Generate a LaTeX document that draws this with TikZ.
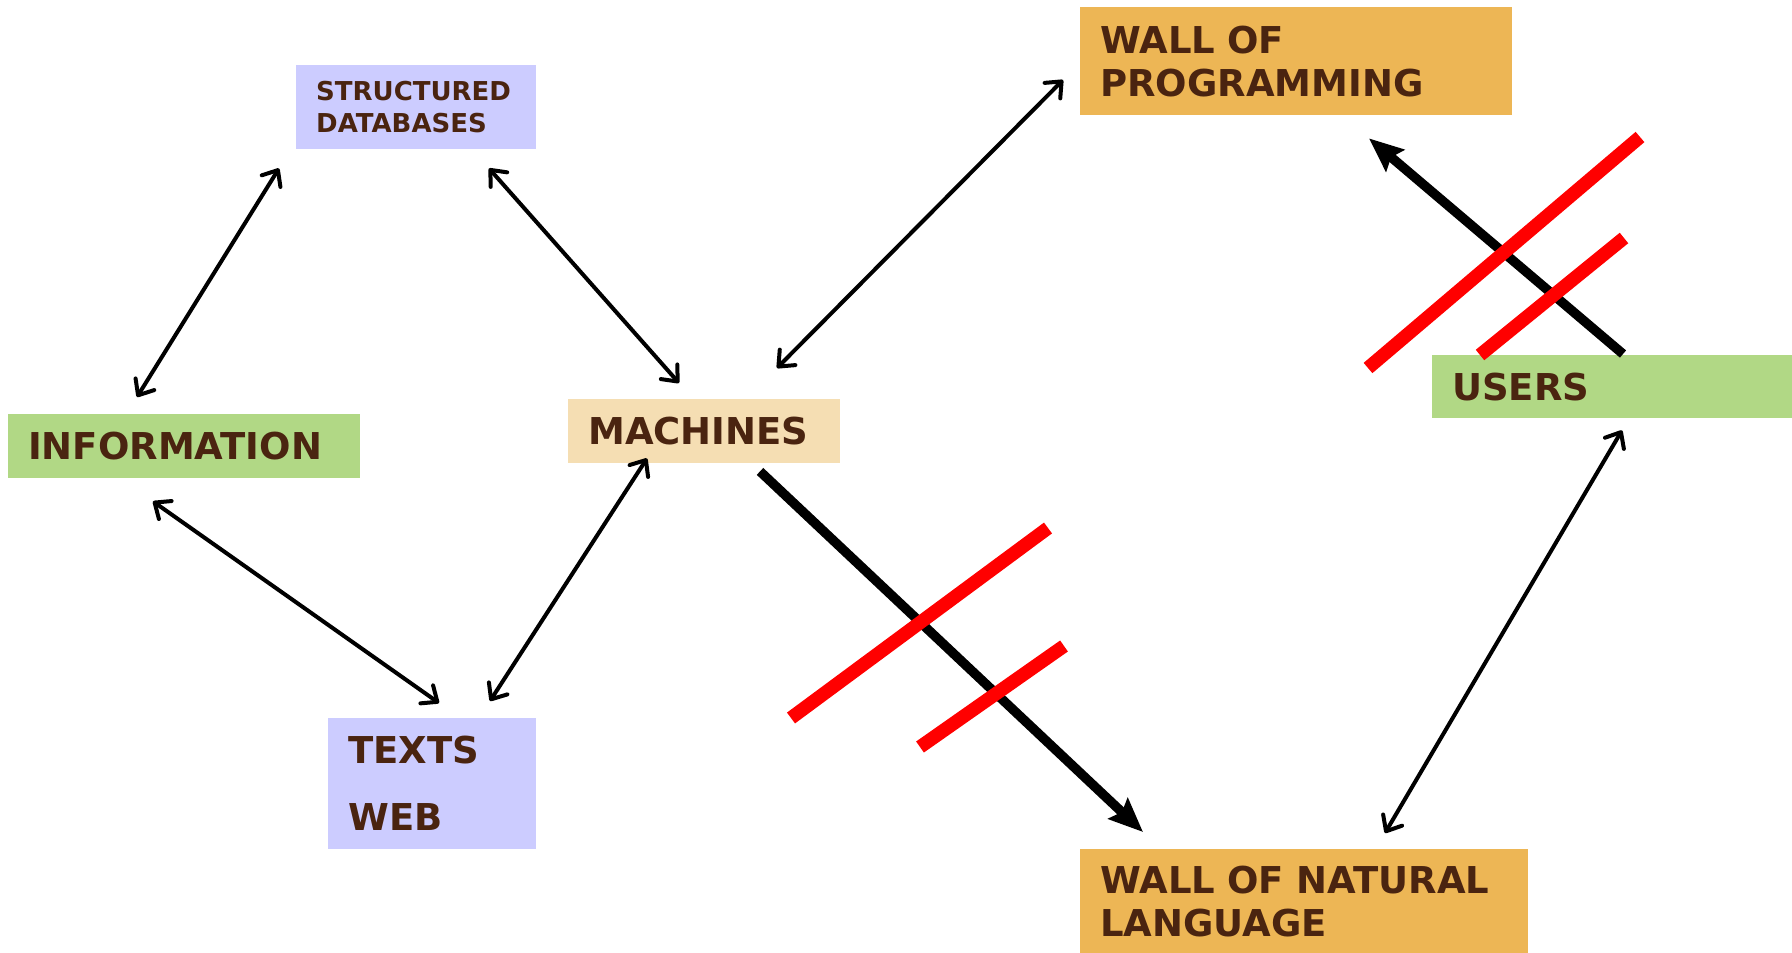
\documentclass[tikz,border=0pt]{standalone}
\usepackage{fontspec}
\setmainfont{DejaVu Sans}
\usetikzlibrary{arrows.meta}

\definecolor{textbrown}{HTML}{4A2410}
\definecolor{dbblue}{HTML}{CCCCFF}
\definecolor{infogreen}{HTML}{B1D885}
\definecolor{machbeige}{HTML}{F5DEB3}
\definecolor{wallorange}{HTML}{EDB655}

\begin{document}
\begin{tikzpicture}[x=1pt,y=-1pt]
    \tikzstyle{box} = [anchor=north west, inner xsep=20pt, inner ysep=0pt, align=left, text=textbrown, font=\bfseries\fontsize{37}{43}\selectfont]
    \tikzstyle{link} = [{Straight Barb[length=13pt, width=22pt, round]}-{Straight Barb[length=13pt, width=22pt, round]}, line width=4pt]
    \tikzstyle{blocked} = [-{Stealth[length=34pt, width=28pt, inset=5pt]}, line width=9.5pt]
    \tikzstyle{bar} = [red, line width=13.5pt]

    \useasboundingbox (0,0) rectangle (1792,953);

      \draw
        (8, 414) node[box, fill=infogreen, text width=312pt, minimum height=64pt] (0){INFORMATION}
        (296, 65) node[box, fill=dbblue, text width=200pt, minimum height=84pt, font=\bfseries\fontsize{26}{32}\selectfont] (1){STRUCTURED\\DATABASES}
        (568, 399) node[box, fill=machbeige, text width=232pt, minimum height=64pt] (2){MACHINES}
        (328, 718) node[box, fill=dbblue, text width=168pt, minimum height=131pt] (3){TEXTS\\[24pt]WEB}
        (1080, 7) node[box, fill=wallorange, text width=392pt, minimum height=108pt] (4){WALL OF\\PROGRAMMING}
        (1432, 355) node[box, fill=infogreen, text width=320pt, minimum height=63pt] (5){USERS}
        (1080, 849) node[box, fill=wallorange, text width=408pt, minimum height=104pt] (6){WALL OF NATURAL\\LANGUAGE};

      \begin{scope}[link]
        \draw ([shift={(129,-17)}]0.north west) to ([shift={(-17,19)}]1.south west);
        \draw ([shift={(193,19)}]1.south west) to ([shift={(111,-16)}]2.north west);
        \draw ([shift={(209,-31)}]2.north west) to ([shift={(-17,73)}]4.north west);
        \draw ([shift={(145,23)}]0.south west) to ([shift={(111,-15)}]3.north west);
        \draw ([shift={(79,-5)}]2.south west) to ([shift={(162,-17)}]3.north west);
        \draw ([shift={(190,12)}]5.south west) to ([shift={(305,-16)}]6.north west);
      \end{scope}

      \draw[blocked] ([shift={(192,8)}]2.south west) to ([shift={(63,-17)}]6.north west);
      \draw[blocked] ([shift={(191,-1)}]5.north west) to ([shift={(289,23)}]4.south west);

      % red strokes across the blocked paths
      \draw[bar] (791,718) -- (1048,528);
      \draw[bar] (920,747) -- (1064,646);
      \draw[bar] (1368,368) -- (1640,137);
      \draw[bar] (1480,355) -- (1624,238);
    \end{tikzpicture}
\end{document}
